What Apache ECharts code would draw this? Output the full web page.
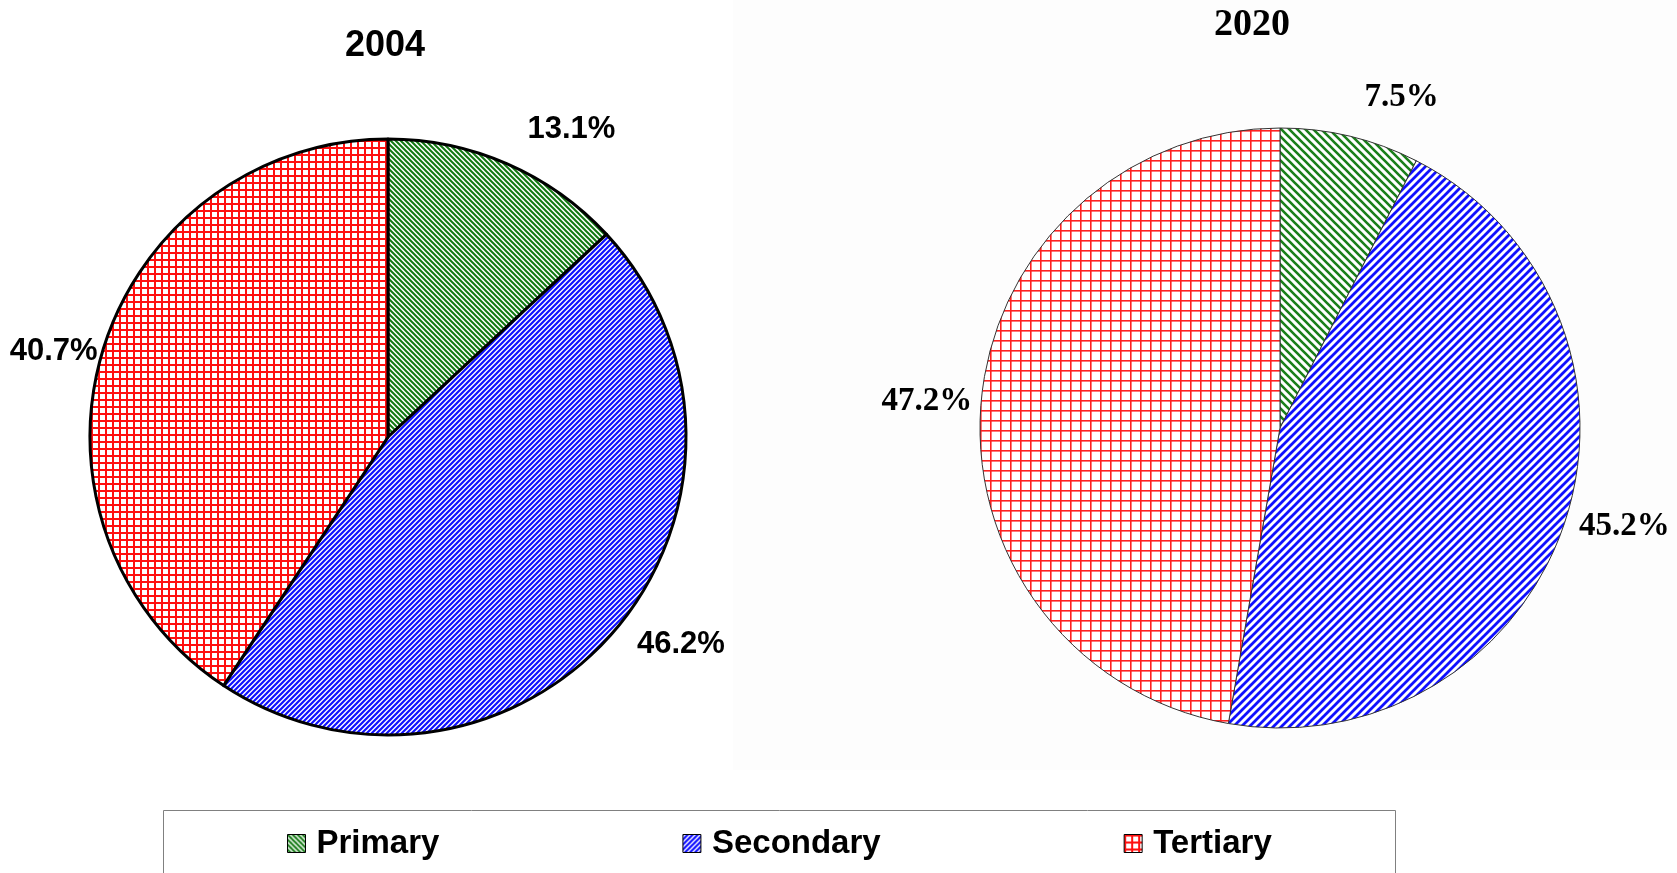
<!DOCTYPE html>
<html>
  <head>
    <meta charset="UTF-8">
    <title>pie 2004 2020</title>
    <script src="https://cdn.jsdelivr.net/npm/echarts@6/dist/echarts.min.js"></script>
    <style>
      html, body { margin: 0; padding: 0; background: #fff; }
      #main { width: 1677px; height: 873px; }
    </style>
  </head>
  <body>
    <div id="main"></div>
    <script>
// data
var sectors = ['Primary', 'Secondary', 'Tertiary'];
var years = ['2004', '2020'];
var share2004 = [13.1, 46.2, 40.7];
var share2020 = [7.5, 45.2, 47.2];

// how far each label sits out from the rim (px)
var labelGap2004 = [38, 22, 0];
var labelGap2020 = [40, 10, 4];

// hatch tiles drawn on little canvases
function stripes(size, color, width, dir) {
  var c = document.createElement('canvas');
  c.width = size; c.height = size;
  var g = c.getContext('2d');
  g.fillStyle = '#fff';
  g.fillRect(0, 0, size, size);
  g.strokeStyle = color;
  g.lineWidth = width;
  g.beginPath();
  for (var k = -1; k <= 1; k++) {
    if (dir === '/') {
      g.moveTo(k * size - 1, size + 1);
      g.lineTo(k * size + size + 1, -1);
    } else {
      g.moveTo(k * size - 1, -1);
      g.lineTo(k * size + size + 1, size + 1);
    }
  }
  g.stroke();
  return { image: c, repeat: 'repeat' };
}
function grid(size, color, width) {
  var c = document.createElement('canvas');
  c.width = size; c.height = size;
  var g = c.getContext('2d');
  g.fillStyle = '#fff';
  g.fillRect(0, 0, size, size);
  g.fillStyle = color;
  g.fillRect(0, 0, width, size);
  g.fillRect(0, 0, size, width);
  return { image: c, repeat: 'repeat' };
}

var fill2004 = [
  stripes(5, '#127812', 2, '\\'),
  stripes(5, '#1010ff', 2.2, '/'),
  grid(7, '#ff1010', 2)
];
var fill2020 = [
  stripes(8, '#1a7f1a', 2.6, '\\'),
  stripes(8, '#1010ff', 2.8, '/'),
  grid(10, '#ff2020', 1.6)
];

function pieData(vals, fills, gaps) {
  var out = [];
  for (var i = 0; i < vals.length; i++) {
    out.push({
      name: sectors[i],
      value: vals[i],
      itemStyle: { color: fills[i] },
      labelLine: { show: false, length: gaps[i], length2: 0 }
    });
  }
  return out;
}

var chart = echarts.init(document.getElementById('main'));

var option = {
  animation: false,
  backgroundColor: '#fff',
  graphic: [
    { type: 'rect', z: -10, silent: true, shape: { x: 733, y: 0, width: 944, height: 770 }, style: { fill: '#fdfdfd' } },
    { type: 'rect', z: -5, silent: true, shape: { x: 163.5, y: 810.5, width: 1232, height: 80 }, style: { fill: '#fff', stroke: '#808080', lineWidth: 1 } },
    { type: 'text', x: 385, y: 46, style: { text: years[0], fill: '#000', font: 'bold 36px "Liberation Sans"', textAlign: 'center', textVerticalAlign: 'middle' } },
    { type: 'text', x: 1252, y: 25, style: { text: years[1], fill: '#000', font: 'bold 38px "Liberation Serif"', textAlign: 'center', textVerticalAlign: 'middle' } }
  ],
  legend: {
    data: sectors,
    left: 282,
    top: 822,
    itemGap: 243,
    itemWidth: 18,
    itemHeight: 18,
    icon: 'rect',
    itemStyle: { borderColor: '#000', borderWidth: 1 },
    textStyle: { fontFamily: 'Liberation Sans', fontWeight: 'bold', fontSize: 33, color: '#000', padding: [0, 0, 0, 6] }
  },
  series: [
    {
      name: years[0],
      type: 'pie',
      center: [388, 437],
      radius: 298,
      startAngle: 90,
      clockwise: true,
      avoidLabelOverlap: false,
      itemStyle: { borderColor: '#000', borderWidth: 3 },
      label: {
        position: 'outside',
        formatter: '{c}%',
        fontFamily: 'Liberation Sans',
        fontWeight: 'bold',
        fontSize: 31,
        color: '#000'
      },
      labelLine: { show: false, length: 18, length2: 0 },
      emphasis: { disabled: true },
      data: pieData(share2004, fill2004, labelGap2004)
    },
    {
      name: years[1],
      type: 'pie',
      center: [1280, 428],
      radius: 300,
      startAngle: 90,
      clockwise: true,
      avoidLabelOverlap: false,
      itemStyle: { borderColor: '#333', borderWidth: 1 },
      label: {
        position: 'outside',
        formatter: '{c}%',
        fontFamily: 'Liberation Serif',
        fontWeight: 'bold',
        fontSize: 33,
        color: '#000'
      },
      labelLine: { show: false, length: 14, length2: 0 },
      emphasis: { disabled: true },
      data: pieData(share2020, fill2020, labelGap2020)
    }
  ]
};

chart.setOption(option);
    </script>
  </body>
</html>
